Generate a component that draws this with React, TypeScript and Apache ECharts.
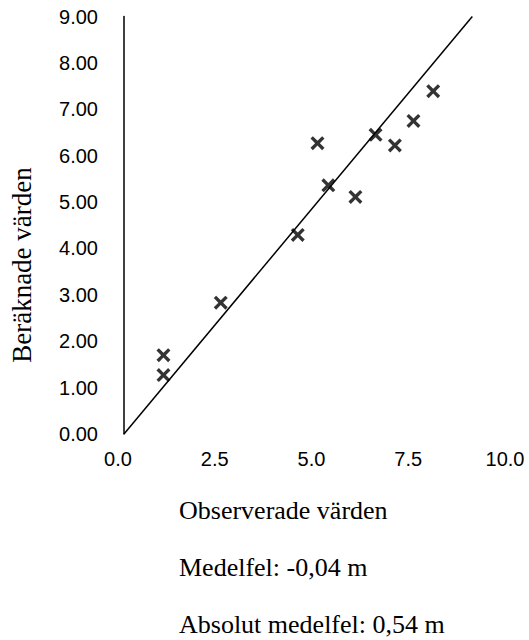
import React, { useEffect, useRef } from "react";
import * as echarts from "echarts";

const observed = [1.02, 1.02, 2.5, 4.49, 5.0, 5.28, 5.98, 6.5, 7.0, 7.48, 7.99];
const computed = [1.27, 1.7, 2.83, 4.29, 6.27, 5.36, 5.11, 6.45, 6.22, 6.75, 7.39];
const refLineX = [0, 9];
const refLineY = [0, 9];
const xTicks = [0, 2.5, 5, 7.5, 10];
const yTicks = [0, 1, 2, 3, 4, 5, 6, 7, 8, 9];
const xTitle = "Observerade värden";
const yTitle = "Beräknade värden";
const noteLines = ["Medelfel: -0,04 m", "Absolut medelfel: 0,54 m"];

const X_PATH =
  "path://M0,17 L17,0 L50,33 L83,0 L100,17 L67,50 L100,83 L83,100 L50,67 L17,100 L0,83 L33,50 Z";

export default function App() {
  const ref = useRef<HTMLDivElement>(null);
  useEffect(() => {
    if (!ref.current) return;
    const chart = echarts.init(ref.current, null, { renderer: "svg" });
    const serif = "'Liberation Serif', 'Times New Roman', serif";
    const sans = "'Liberation Sans', Arial, sans-serif";
    const textStyle = (t: string) => ({
      text: t,
      font: "26px " + serif,
      fill: "#000",
      align: "left",
      verticalAlign: "middle",
      lineHeight: 24,
    });
    chart.setOption({
      animation: false,
      backgroundColor: "#ffffff",
      grid: {
        left: 124,
        right: 18,
        top: 16.5,
        bottom: 206,
        containLabel: false,
        outerBoundsMode: "none",
      },
      xAxis: {
        type: "value",
        min: xTicks[0],
        max: xTicks[xTicks.length - 1],
        interval: 2.5,
        axisLine: { show: false },
        axisTick: { show: false },
        splitLine: { show: false },
        axisLabel: {
          margin: 15,
          formatter: (v: number) => "{a|" + v.toFixed(1) + "}",
          rich: {
            a: {
              fontFamily: sans,
              fontSize: 20,
              color: "#000",
              padding: [0, 12, 0, 0],
            },
          },
        },
      },
      yAxis: {
        type: "value",
        min: yTicks[0],
        max: yTicks[yTicks.length - 1],
        interval: 1,
        axisLine: { show: true, lineStyle: { color: "#000", width: 1.5 } },
        axisTick: { show: false },
        splitLine: { show: false },
        axisLabel: {
          margin: 26,
          fontFamily: sans,
          fontSize: 20,
          color: "#000",
          formatter: (v: number) => v.toFixed(2),
        },
      },
      series: [
        {
          type: "line",
          data: refLineX.map((x, i) => [x, refLineY[i]]),
          showSymbol: false,
          lineStyle: { color: "#000", width: 1.5 },
          silent: true,
        },
        {
          type: "scatter",
          data: observed.map((x, i) => [x, computed[i]]),
          symbol: X_PATH,
          symbolSize: 14,
          itemStyle: { color: "#000" },
        },
      ],
      graphic: [
        {
          type: "text",
          x: 22,
          y: 265,
          rotation: Math.PI / 2,
          style: {
            text: yTitle,
            font: "27px " + serif,
            fill: "#000",
            align: "center",
            verticalAlign: "middle",
          },
        },
        {
          type: "text",
          x: 179,
          y: 510,
          style: textStyle(xTitle),
        },
        ...noteLines.map((t, i) => ({
          type: "text",
          x: 179,
          y: 567 + i * 57,
          style: textStyle(t),
        })),
      ],
    });
    return () => chart.dispose();
  }, []);
  return (
    <div
      ref={ref}
      style={{ position: "absolute", left: 0, top: 0, width: 529, height: 640 }}
    />
  );
}
